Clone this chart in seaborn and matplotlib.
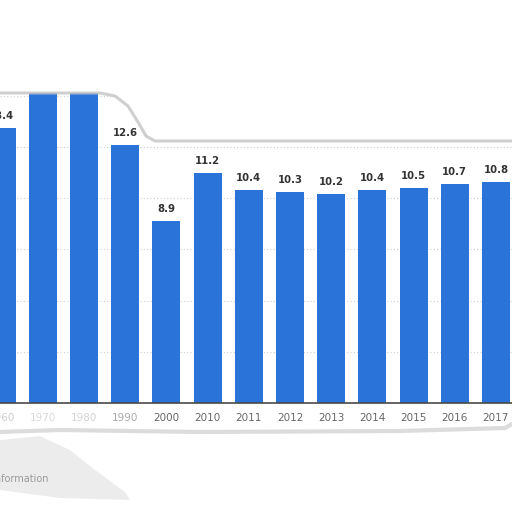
import numpy as np
import matplotlib
matplotlib.use("Agg")
import matplotlib.pyplot as plt
import seaborn as sns
from matplotlib.patches import Polygon
from matplotlib.lines import Line2D

# values (1970/1980 tops are hidden under the curl)
years = ["1960", "1970", "1980", "1990", "2000", "2010", "2011", "2012",
         "2013", "2014", "2015", "2016", "2017"]
values = [13.4, 15.3, 15.2, 12.6, 8.9, 11.2, 10.4, 10.3, 10.2, 10.4, 10.5, 10.7, 10.8]
label_text = ["13.4", "", "", "12.6", "8.9", "11.2", "10.4", "10.3", "10.2",
              "10.4", "10.5", "10.7", "10.8"]
yticks = [0, 2.5, 5, 7.5, 10, 12.5, 15]

sns.set_theme(style="white")
plt.rcParams['font.family'] = ['DejaVu Sans']

W = H = 512
fig = plt.figure(figsize=(5.12, 5.12), dpi=100)
base = 403
ppu = 20.5
ax = fig.add_axes([0, 1 - base / H, 1, base / H])

sns.barplot(x=years, y=values, color="#2a73d9", saturation=1, width=0.68,
            linewidth=0, ax=ax, zorder=3)
ax.set_xlim(-0.04, 12.39)
ax.set_ylim(0, base / ppu)

for y in yticks[1:]:
    ax.axhline(y, color="#cfcfcf", lw=0.8, ls=(0, (1, 2)), zorder=1)

ax.bar_label(ax.containers[0], labels=label_text, padding=5, fontsize=7.3,
             fontweight="bold", color="#333333")

for s in ["top", "right", "left"]:
    ax.spines[s].set_visible(False)
ax.spines["bottom"].set_color("#4a4a4a")
ax.spines["bottom"].set_linewidth(1.2)
ax.spines["bottom"].set_zorder(4)
ax.set_yticks([])
ax.tick_params(axis="x", length=0, pad=7, labelsize=7.5, labelcolor="#666666")
ax.set_xlabel("")
ax.set_ylabel("")
fade = {"1960": "#cccccc", "1970": "#d8d8d8", "1980": "#d4d4d4", "1990": "#aaaaaa"}
for t in ax.get_xticklabels():
    if t.get_text() in fade:
        t.set_color(fade[t.get_text()])


def px(pts):
    return [(x / W, 1 - y / H) for x, y in pts]


# page curl at the top
curl = [(0, 93), (100, 93), (115, 96), (128, 106), (138, 122), (146, 136),
        (155, 141), (W, 141)]
fig.patches.append(Polygon(px(curl + [(W, 0), (0, 0)]), closed=True,
                           transform=fig.transFigure, facecolor="white",
                           edgecolor="none", zorder=5))
cx, cy = zip(*px(curl))
fig.lines.append(Line2D(cx, cy, transform=fig.transFigure, color="#c4c4c4",
                        lw=2.2, alpha=0.8, zorder=6))

# torn bottom with shadow
edge = [(0, 432), (60, 430), (200, 432), (400, 431), (505, 428), (W, 424)]
fig.patches.append(Polygon(px(edge + [(W, H), (0, H)]), closed=True,
                           transform=fig.transFigure, facecolor="white",
                           edgecolor="none", zorder=5))
ex, ey = zip(*px(edge))
fig.lines.append(Line2D(ex, ey, transform=fig.transFigure, color="#d4d4d4",
                        lw=3, alpha=0.8, zorder=6))
blob = [(0, 440), (40, 436), (70, 450), (95, 470), (125, 492), (130, 500),
        (60, 498), (0, 490)]
fig.patches.append(Polygon(px(blob), closed=True, transform=fig.transFigure,
                           facecolor="#e8e8e8", edgecolor="none", alpha=0.8,
                           zorder=6))
fig.text(-8 / W, 1 - 479 / H, "Information", fontsize=7, color="#9a9a9a",
         ha="left", va="center", zorder=7)

fig.savefig("out.png", dpi=100, facecolor="white")
